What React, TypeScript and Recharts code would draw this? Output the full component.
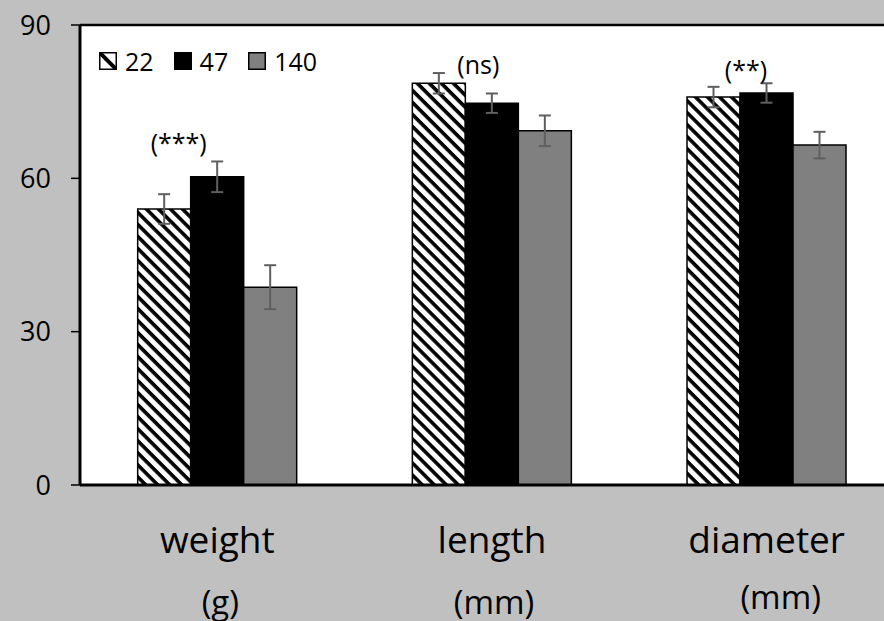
import React from 'react'
import {
  BarChart,
  Bar,
  XAxis,
  YAxis,
  CartesianGrid,
  ErrorBar,
  LabelList,
  Legend,
  ReferenceLine,
} from 'recharts'

// values
const categories = ['weight', 'length', 'diameter']
const units = ['(g)', '(mm)', '(mm)']
const s22 = [54.0, 78.6, 75.9]
const s47 = [60.3, 74.7, 76.7]
const s140 = [38.7, 69.3, 66.5]
const err22 = [2.9, 2.0, 2.0]
const err47 = [3.0, 1.9, 1.9]
const err140 = [4.3, 3.0, 2.6]
const sigLabels = ['(***)', '(ns)', '(**)']
const sigLevels = [66.9, 82.2, 81.2] // where the significance mark sits, in axis units
const yTicks = [0, 30, 60, 90]

const series = [
  { key: 's22', name: '22', fill: 'url(#hatch)', err: 'e22' },
  { key: 's47', name: '47', fill: '#000000', err: 'e47' },
  { key: 's140', name: '140', fill: '#808080', err: 'e140' },
]

const data = categories.map((c, i) => ({
  name: c,
  s22: s22[i],
  s47: s47[i],
  s140: s140[i],
  e22: err22[i],
  e47: err47[i],
  e140: err140[i],
  sig: sigLabels[i],
}))

const FONT = '"Open Sans", sans-serif'

// label tweaks so the text lands where it did in the original
const sigShift = [-12, 13, 6]
const unitShift = [
  [3, 129],
  [2, 129],
  [14, 124],
]

const XTick = (props: any) => {
  const { x, y, payload, index } = props
  return (
    <g>
      <text x={x} y={y + 68} textAnchor="middle" fontSize={37} fontFamily={FONT} fill="#000">
        {payload.value}
      </text>
      <text
        x={x + unitShift[index][0]}
        y={y + unitShift[index][1]}
        textAnchor="middle"
        fontSize={33}
        fontFamily={FONT}
        fill="#000"
      >
        {units[index]}
      </text>
    </g>
  )
}

const SigLabel = (props: any) => {
  const { x, y, height, index } = props
  const base = y + height
  const perUnit = height / s47[index]
  const cy = base - sigLevels[index] * perUnit
  return (
    <text
      x={x + sigShift[index]}
      y={cy}
      dy="0.36em"
      textAnchor="middle"
      fontSize={25}
      fontFamily={FONT}
      fill="#000"
    >
      {sigLabels[index]}
    </text>
  )
}

const Swatch = ({ name }: { name: string }) => {
  if (name === '22') {
    return (
      <svg width={18} height={18} style={{ display: 'block' }}>
        <rect x={0.75} y={0.75} width={16.5} height={16.5} fill="#fff" stroke="#000" strokeWidth={1.5} />
        <line x1={1} y1={1} x2={17} y2={17} stroke="#000" strokeWidth={4} />
      </svg>
    )
  }
  const s = series.find((d) => d.name === name)
  return (
    <svg width={18} height={18} style={{ display: 'block' }}>
      <rect x={0.75} y={0.75} width={16.5} height={16.5} fill={s ? s.fill : '#000'} stroke="#000" strokeWidth={1.5} />
    </svg>
  )
}

const LegendBox = () => (
  <div style={{ display: 'flex', alignItems: 'center', fontFamily: FONT, fontSize: 25, lineHeight: '28px' }}>
    {series.map((s) => (
      <div key={s.key} style={{ display: 'flex', alignItems: 'center', marginRight: 20 }}>
        <Swatch name={s.name} />
        <span style={{ marginLeft: 8, color: '#000' }}>{s.name}</span>
      </div>
    ))}
  </div>
)

export default function App() {
  return (
    <div
      style={{
        position: 'absolute',
        left: 0,
        top: 0,
        width: 884,
        height: 621,
        overflow: 'hidden',
        background: '#c0c0c0',
      }}
    >
      <svg width={0} height={0} style={{ position: 'absolute' }}>
        <defs>
          <pattern
            id="hatch"
            patternUnits="userSpaceOnUse"
            width={8.5}
            height={8.5}
            patternTransform="rotate(45)"
          >
            <rect x={0} y={0} width={8.5} height={8.5} fill="#fff" />
            <rect x={0} y={0} width={8.5} height={3.6} fill="#000" />
          </pattern>
        </defs>
      </svg>
      <BarChart
        width={904}
        height={621}
        data={data}
        margin={{ top: 25, right: 0, left: 0, bottom: 106 }}
        barGap={0}
        barCategoryGap="21%"
      >
        <CartesianGrid fill="#ffffff" horizontal={false} vertical={false} />
        <XAxis
          dataKey="name"
          height={30}
          axisLine={{ stroke: '#000', strokeWidth: 3 }}
          tickLine={false}
          tickSize={0}
          tickMargin={0}
          tick={<XTick />}
          interval={0}
        />
        <YAxis
          width={80}
          domain={[0, 90]}
          ticks={yTicks}
          axisLine={{ stroke: '#000', strokeWidth: 3 }}
          tickLine={{ stroke: '#000', strokeWidth: 1.5 }}
          tickSize={9}
          tickMargin={20}
          tick={{ fontSize: 27, fontFamily: FONT, fill: '#000' }}
        />
        <ReferenceLine y={90} stroke="#000" strokeWidth={2.5} />
        <Legend
          verticalAlign="middle"
          align="center"
          layout="horizontal"
          content={<LegendBox />}
          wrapperStyle={{ top: 47, left: 99, width: 'auto', height: 28 }}
        />
        {series.map((s) => (
          <Bar
            key={s.key}
            dataKey={s.key}
            name={s.name}
            fill={s.fill}
            stroke="#000"
            strokeWidth={1.5}
            isAnimationActive={false}
          >
            <ErrorBar dataKey={s.err} width={6} stroke="#5f5f5f" strokeWidth={2} />
            {s.key === 's47' ? <LabelList dataKey="sig" content={<SigLabel />} /> : null}
          </Bar>
        ))}
      </BarChart>
    </div>
  )
}
